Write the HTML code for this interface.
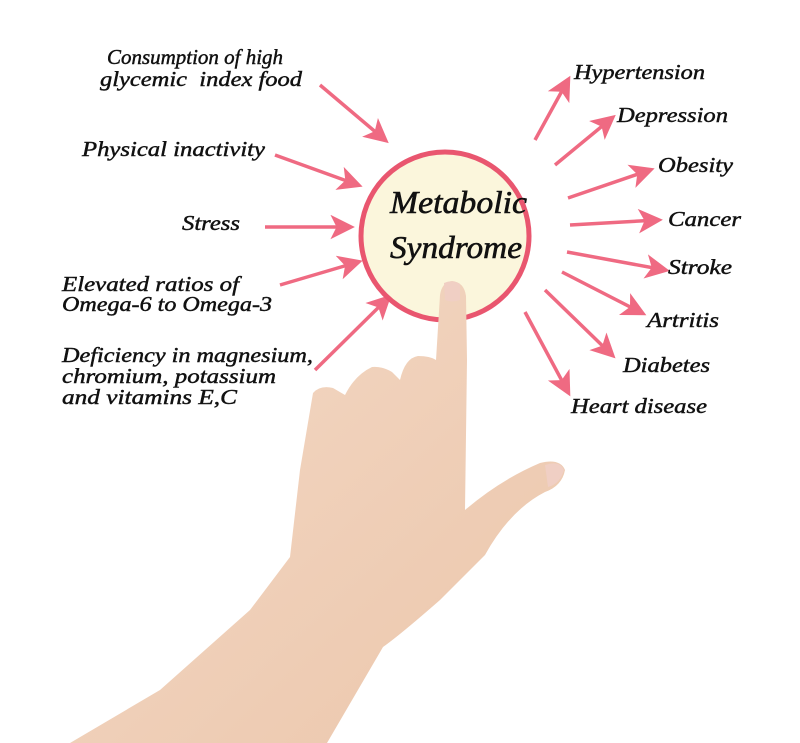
<!DOCTYPE html>
<html><head><meta charset="utf-8"><style>
html,body{margin:0;padding:0;background:#fff}
svg{display:block}
text{font-family:"Liberation Serif",serif;font-style:italic;font-size:21px;fill:#111;stroke:#111;stroke-width:0.45}
</style></head><body>
<svg width="800" height="743" viewBox="0 0 800 743" xmlns="http://www.w3.org/2000/svg">
<defs>
<marker id="ah" viewBox="0 0 10 10" refX="8" refY="5" markerWidth="8" markerHeight="7" orient="auto"><path d="M0,0 L10,5 L0,10 L2.5,5 Z" fill="#ef6a82"/></marker>
<linearGradient id="sk" x1="0" y1="0" x2="1" y2="1"><stop offset="0" stop-color="#f4d9c6"/><stop offset="1" stop-color="#ebc6ab"/></linearGradient>
</defs>
<g stroke="#ef6a82" stroke-width="3.5" fill="none" marker-end="url(#ah)">
<line x1="320" y1="85" x2="385" y2="140"/>
<line x1="275" y1="155" x2="358" y2="185"/>
<line x1="265" y1="227" x2="350" y2="227"/>
<line x1="280" y1="285" x2="358" y2="262"/>
<line x1="315" y1="370" x2="388" y2="298"/>
<line x1="535" y1="140" x2="568" y2="80"/>
<line x1="555" y1="165" x2="612" y2="118"/>
<line x1="568" y1="198" x2="650" y2="170"/>
<line x1="570" y1="225" x2="658" y2="220"/>
<line x1="567" y1="252" x2="665" y2="270"/>
<line x1="562" y1="272" x2="642" y2="313"/>
<line x1="545" y1="290" x2="612" y2="355"/>
<line x1="525" y1="312" x2="568" y2="392"/>
</g>
<circle cx="445" cy="236" r="84" fill="#fbf6dc" stroke="#e9566f" stroke-width="5"/>
<text x="390" y="213" textLength="137" lengthAdjust="spacingAndGlyphs" style="font-size:32px;stroke-width:0.6">Metabolic</text>
<text x="390" y="258" textLength="132" lengthAdjust="spacingAndGlyphs" style="font-size:32px;stroke-width:0.6">Syndrome</text>
<path fill="url(#sk)" d="M70,743 L160,690 L250,610 L290,557 L300,470 L313,393 Q320,385 333,388 L345,395 Q355,375 372,367 Q382,366 392,372 L400,380 Q405,358 418,356 Q430,356 436,360 L440,295 Q442,282 452,281 Q464,282 466,296 L467,360 L465,510 Q500,480 540,463 Q560,458 565,470 Q562,486 545,492 Q510,510 485,555 L440,600 Q400,635 383,647 L327,743 Z"/>
<path d="M444,283 Q452,279 460,284 L460,300 Q452,303 445,300 Z" fill="#f0cfc4"/>
<path d="M545,465 Q560,460 564,470 Q560,484 548,487 Z" fill="#f0cfc4"/>
<g lengthAdjust="spacingAndGlyphs">
<text x="107" y="64" textLength="176" lengthAdjust="spacingAndGlyphs">Consumption of high</text>
<text x="100" y="86" textLength="202" lengthAdjust="spacingAndGlyphs">glycemic&#160; index food</text>
<text x="82" y="156" textLength="183" lengthAdjust="spacingAndGlyphs">Physical inactivity</text>
<text x="182" y="230" textLength="58" lengthAdjust="spacingAndGlyphs">Stress</text>
<text x="62" y="291" textLength="177" lengthAdjust="spacingAndGlyphs">Elevated ratios of</text>
<text x="62" y="311" textLength="210" lengthAdjust="spacingAndGlyphs">Omega-6 to Omega-3</text>
<text x="62" y="362" textLength="251" lengthAdjust="spacingAndGlyphs">Deficiency in magnesium,</text>
<text x="62" y="383" textLength="214" lengthAdjust="spacingAndGlyphs">chromium, potassium</text>
<text x="62" y="404" textLength="175" lengthAdjust="spacingAndGlyphs">and vitamins E,C</text>
<text x="574" y="79" textLength="131" lengthAdjust="spacingAndGlyphs">Hypertension</text>
<text x="617" y="122" textLength="111" lengthAdjust="spacingAndGlyphs">Depression</text>
<text x="658" y="172" textLength="75" lengthAdjust="spacingAndGlyphs">Obesity</text>
<text x="668" y="226" textLength="73" lengthAdjust="spacingAndGlyphs">Cancer</text>
<text x="668" y="274" textLength="64" lengthAdjust="spacingAndGlyphs">Stroke</text>
<text x="647" y="327" textLength="72" lengthAdjust="spacingAndGlyphs">Artritis</text>
<text x="623" y="372" textLength="87" lengthAdjust="spacingAndGlyphs">Diabetes</text>
<text x="571" y="413" textLength="136" lengthAdjust="spacingAndGlyphs">Heart disease</text>
</g>
</svg>
</body></html>
